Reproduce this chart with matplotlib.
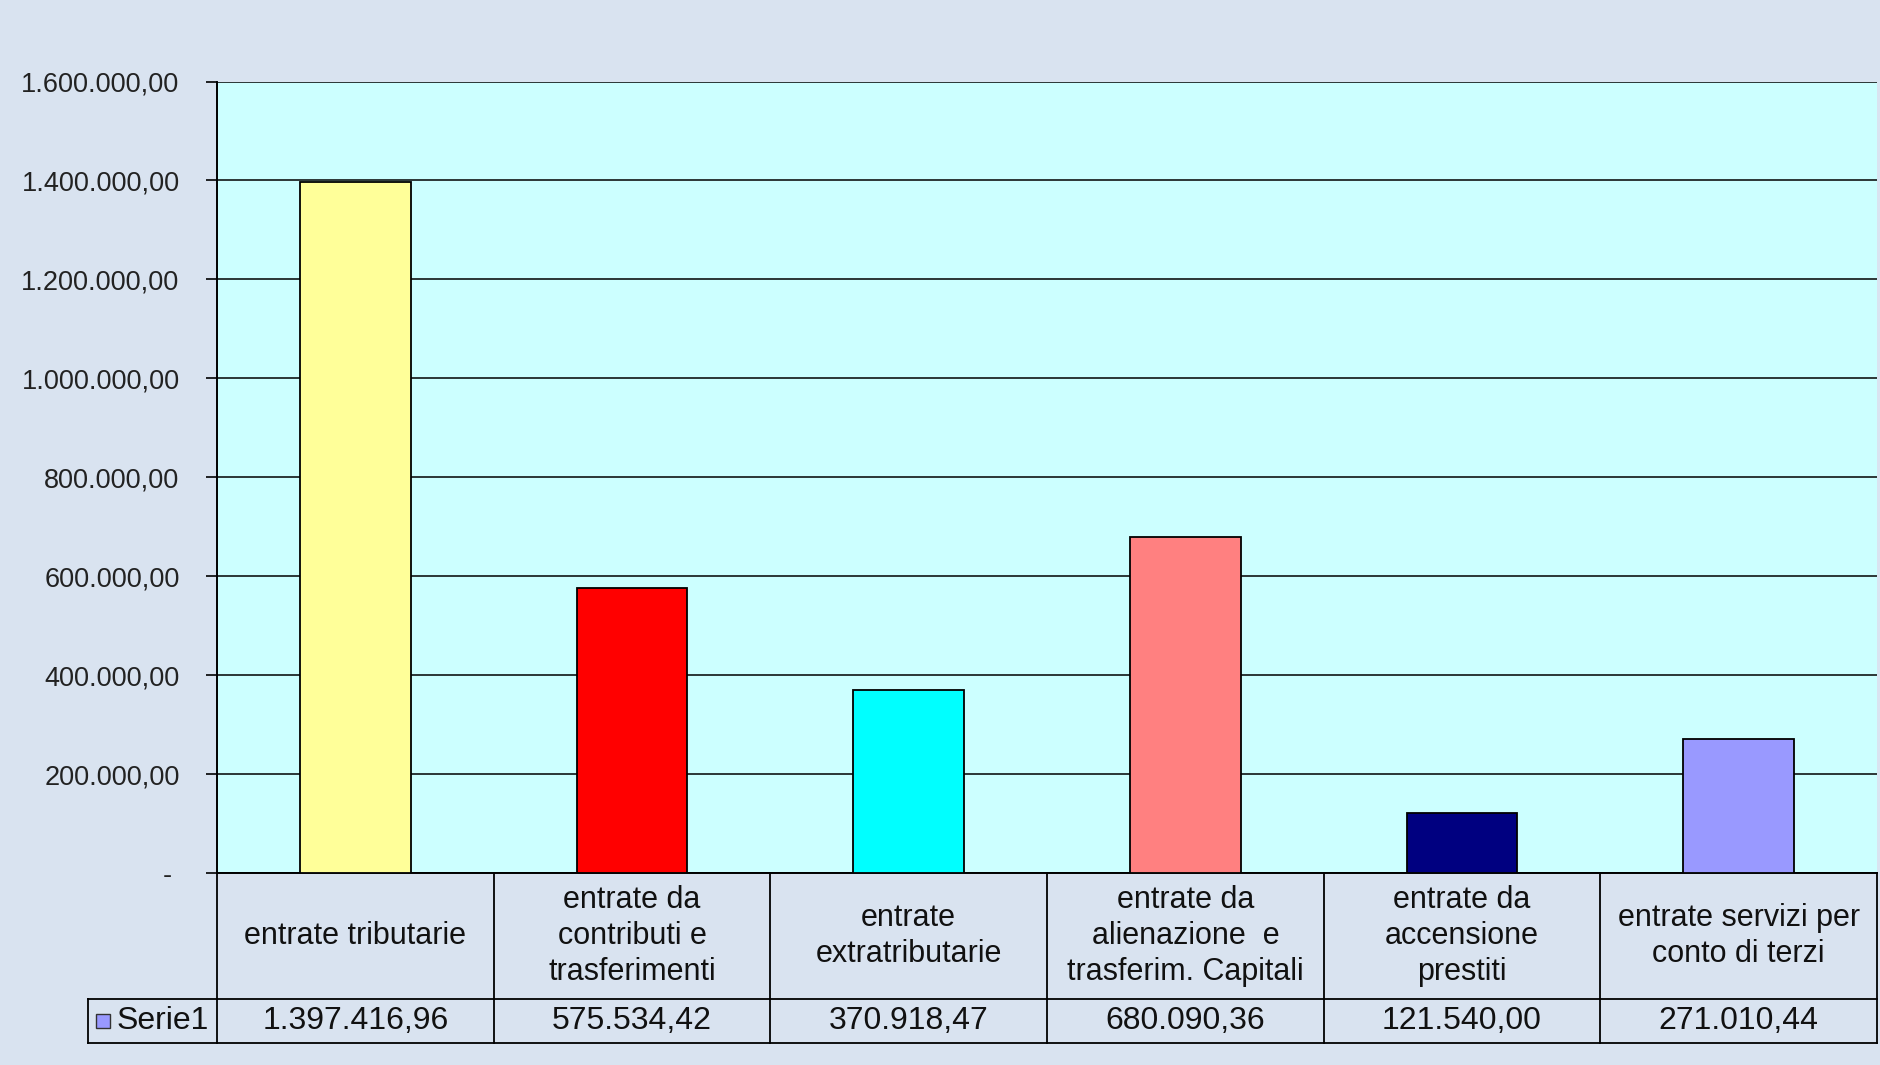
import matplotlib.pyplot as plt
from matplotlib.patches import Rectangle
from matplotlib.ticker import FuncFormatter
from matplotlib.transforms import blended_transform_factory

categories = ["entrate tributarie",
              "entrate da\ncontributi e\ntrasferimenti",
              "entrate\nextratributarie",
              "entrate da\nalienazione  e\ntrasferim. Capitali",
              "entrate da\naccensione\nprestiti",
              "entrate servizi per\nconto di terzi"]
values = [1397416.96, 575534.42, 370918.47, 680090.36, 121540.00, 271010.44]
colors = ["#FFFF99", "#FF0000", "#00FFFF", "#FF8080", "#000080", "#9999FF"]
series_name = "Serie1"
series_color = "#9999FF"
yticks = [0, 200000, 400000, 600000, 800000, 1000000, 1200000, 1400000, 1600000]

plt.rcParams['font.family'] = ['Liberation Sans', 'DejaVu Sans']


def it_fmt(v):
    # italian number format: 1.397.416,96
    s = f"{v:,.2f}"
    return s.replace(",", "X").replace(".", ",").replace("X", ".")


fig = plt.figure(figsize=(18.8, 10.65), dpi=100, facecolor="#d9e3f0")
ax = fig.add_axes([217/1880, 192/1065, 1660/1880, 791.5/1065])
ax.set_facecolor("#CCFFFF")

x = list(range(len(values)))
ax.bar(x, values, width=0.4, color=colors, edgecolor="black", linewidth=1.3, zorder=3)

ax.set_xlim(-0.5, len(values) - 0.5)
ax.set_ylim(0, 1600000)
ax.set_xticks([])
ax.set_yticks(yticks)
ax.yaxis.set_major_formatter(FuncFormatter(lambda v, p: "- " if v == 0 else it_fmt(v)))
ax.tick_params(axis="y", length=8, width=1.2, pad=19, labelsize=19.5, labelcolor="#222222")
ax.yaxis.grid(True, color="black", linewidth=1.1)
ax.set_axisbelow(True)
for side in ["top", "right"]:
    ax.spines[side].set_visible(False)
for side in ["left", "bottom"]:
    ax.spines[side].set_color("black")
    ax.spines[side].set_linewidth(1.4)

# data table under the chart
trans = blended_transform_factory(ax.transData, ax.transAxes)
y_mid = -0.159
y_bot = -0.2146
x_left = -0.078
for i in x:
    ax.text(i, y_mid / 2, categories[i], transform=trans, ha="center", va="center",
            fontsize=22, linespacing=1.25, color="#111111")
    ax.text(i, (y_mid + y_bot) / 2, it_fmt(values[i]), transform=trans, ha="center",
            va="center", fontsize=23, color="#111111")
for i in range(len(values) + 1):
    ax.plot([i - 0.5, i - 0.5], [0, y_bot], transform=trans, color="black", lw=1.3, clip_on=False)
for yy in [y_mid, y_bot]:
    ax.plot([x_left, 1], [yy, yy], transform=ax.transAxes, color="black", lw=1.3, clip_on=False)
ax.plot([x_left, x_left], [y_mid, y_bot], transform=ax.transAxes, color="black", lw=1.3, clip_on=False)

ax.add_patch(Rectangle((-0.0729, -0.196), 0.0084, 0.0177, transform=ax.transAxes,
                       facecolor=series_color, edgecolor="#333333", lw=1, clip_on=False))
ax.text(-0.0608, (y_mid + y_bot) / 2, series_name, transform=ax.transAxes, ha="left",
        va="center", fontsize=23, color="#111111")

fig.savefig("out.png", dpi=100, facecolor=fig.get_facecolor())
